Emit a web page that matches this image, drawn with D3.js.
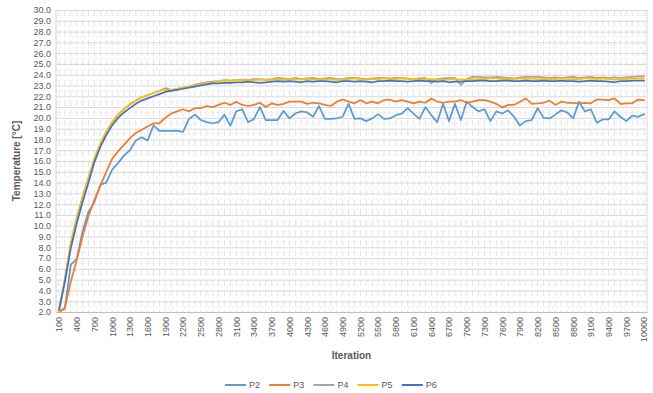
<!DOCTYPE html>
<html>
<head>
<meta charset="utf-8">
<script src="https://cdn.jsdelivr.net/npm/d3@7"></script>
<style>
  body { margin: 0; background: #fff; }
  svg { display: block; }
</style>
</head>
<body>
<div id="chart"></div>
<script>
// iterations 100..10000 (step 100)
const iterations = [100,200,300,400,500,600,700,800,900,1000,1100,1200,1300,1400,1500,1600,1700,1800,1900,2000,
  2100,2200,2300,2400,2500,2600,2700,2800,2900,3000,3100,3200,3300,3400,3500,3600,3700,3800,3900,4000,
  4100,4200,4300,4400,4500,4600,4700,4800,4900,5000,5100,5200,5300,5400,5500,5600,5700,5800,5900,6000,
  6100,6200,6300,6400,6500,6600,6700,6800,6900,7000,7100,7200,7300,7400,7500,7600,7700,7800,7900,8000,
  8100,8200,8300,8400,8500,8600,8700,8800,8900,9000,9100,9200,9300,9400,9500,9600,9700,9800,9900,10000];

const p2 = [2.0,2.3,6.4,6.9,9.5,11.3,12.2,13.8,14.0,15.2,15.8,16.5,17.0,17.9,18.2,17.9,19.3,18.8,18.8,18.8,
  18.8,18.7,19.9,20.3,19.8,19.6,19.5,19.6,20.3,19.25,20.6,20.8,19.6,19.9,21.0,19.8,19.8,19.8,20.65,19.95,
  20.4,20.6,20.5,20.1,21.1,19.9,19.9,19.95,20.1,21.3,19.9,19.95,19.7,19.95,20.35,19.9,19.95,20.25,20.4,20.9,
  20.4,19.9,21.0,20.25,19.6,21.3,19.7,21.3,19.8,21.5,21.0,20.6,20.8,19.7,20.6,20.4,20.7,20.1,19.3,19.7,
  19.8,20.9,20.0,19.95,20.3,20.7,20.5,19.95,21.5,20.6,20.8,19.55,19.85,19.85,20.6,20.1,19.7,20.2,20.1,20.35];

const p3 = [2.0,2.4,4.8,6.8,9.0,10.9,12.4,13.7,15.0,16.2,16.9,17.5,18.1,18.6,18.9,19.2,19.5,19.5,20.0,20.4,
  20.6,20.8,20.6,20.9,20.9,21.1,21.0,21.2,21.4,21.2,21.5,21.2,21.1,21.2,21.4,21.0,21.35,21.2,21.3,21.5,
  21.5,21.5,21.3,21.4,21.35,21.2,21.1,21.5,21.7,21.5,21.35,21.65,21.35,21.5,21.35,21.65,21.7,21.5,21.65,21.5,
  21.35,21.5,21.4,21.8,21.5,21.4,21.5,21.5,21.65,21.4,21.5,21.65,21.65,21.5,21.3,20.95,21.2,21.2,21.5,21.8,
  21.3,21.35,21.4,21.6,21.2,21.5,21.4,21.4,21.35,21.4,21.35,21.7,21.7,21.65,21.8,21.3,21.35,21.35,21.7,21.65];

const p4 = [2.0,5.0,8.4,10.7,12.7,14.5,16.2,17.6,18.7,19.6,20.3,20.8,21.2,21.6,21.9,22.1,22.3,22.5,22.75,22.6,
  22.7,22.8,22.9,23.05,23.2,23.3,23.35,23.4,23.5,23.45,23.5,23.55,23.5,23.6,23.6,23.55,23.6,23.7,23.65,23.6,
  23.7,23.6,23.65,23.7,23.6,23.65,23.7,23.6,23.6,23.7,23.7,23.65,23.6,23.65,23.7,23.7,23.65,23.7,23.7,23.65,
  23.6,23.65,23.7,23.2,23.6,23.65,23.7,23.7,23.05,23.6,23.8,23.8,23.75,23.75,23.8,23.75,23.7,23.65,23.75,23.8,
  23.8,23.8,23.75,23.7,23.75,23.7,23.75,23.8,23.7,23.75,23.8,23.7,23.75,23.7,23.75,23.7,23.75,23.8,23.85,23.85];

const p5 = [2.0,5.0,8.3,10.6,12.6,14.4,16.2,17.6,18.7,19.6,20.3,20.8,21.3,21.6,21.9,22.1,22.3,22.5,22.6,22.55,
  22.7,22.8,22.9,23.0,23.1,23.25,23.3,23.4,23.45,23.45,23.5,23.5,23.45,23.5,23.55,23.5,23.55,23.6,23.55,23.6,
  23.6,23.55,23.6,23.6,23.55,23.6,23.6,23.5,23.55,23.6,23.65,23.6,23.55,23.6,23.6,23.65,23.6,23.6,23.65,23.6,
  23.6,23.55,23.6,23.6,23.55,23.5,23.55,23.6,23.55,23.55,23.6,23.6,23.6,23.65,23.65,23.6,23.6,23.6,23.65,23.6,
  23.65,23.6,23.6,23.6,23.6,23.65,23.6,23.6,23.6,23.65,23.65,23.6,23.65,23.6,23.55,23.6,23.6,23.65,23.65,23.65];

const p6 = [2.2,4.8,7.9,10.2,12.2,14.0,15.9,17.3,18.4,19.3,20.0,20.5,20.9,21.3,21.6,21.8,22.0,22.2,22.4,22.5,
  22.6,22.7,22.8,22.9,23.0,23.1,23.2,23.2,23.25,23.25,23.3,23.3,23.35,23.3,23.25,23.3,23.35,23.4,23.35,23.4,
  23.35,23.3,23.4,23.35,23.4,23.4,23.35,23.3,23.4,23.4,23.35,23.4,23.35,23.3,23.4,23.4,23.45,23.4,23.4,23.35,
  23.4,23.45,23.4,23.4,23.35,23.4,23.3,23.35,23.35,23.4,23.4,23.45,23.45,23.4,23.4,23.45,23.45,23.4,23.4,23.45,
  23.4,23.4,23.45,23.4,23.4,23.45,23.4,23.4,23.35,23.4,23.45,23.4,23.4,23.35,23.3,23.4,23.4,23.45,23.45,23.45];

const seriesNames = ["P2", "P3", "P4", "P5", "P6"];
const seriesValues = [p2, p3, p4, p5, p6];
const colors = ["#5b9bd5", "#ed7d31", "#a5a5a5", "#ffc000", "#4472c4"];
const yTicks = d3.range(2, 30.5, 1);

const W = 653, H = 393;
const plotLeft = 56, plotRight = 647, plotTop = 10, plotBottom = 312;
const textColor = "#595959";
const font = "Liberation Sans, Arial, sans-serif";

const svg = d3.select("#chart").append("svg")
  .attr("width", W)
  .attr("height", H);

const x = d3.scalePoint()
  .domain(iterations)
  .range([plotLeft, plotRight])
  .padding(0.5);

const y = d3.scaleLinear()
  .domain([2, 30])
  .range([plotBottom, plotTop]);

// vertical minor gridlines, one per category
svg.append("g")
  .selectAll("line")
  .data(iterations)
  .enter()
  .append("line")
  .attr("x1", d => x(d)).attr("x2", d => x(d))
  .attr("y1", plotTop).attr("y2", plotBottom)
  .attr("stroke", "#e4e4e4")
  .attr("stroke-dasharray", "6,4");

// horizontal minor gridlines (half steps)
svg.append("g")
  .selectAll("line")
  .data(yTicks.slice(0, -1).map(d => d + 0.5))
  .enter()
  .append("line")
  .attr("x1", plotLeft).attr("x2", plotRight)
  .attr("y1", d => y(d)).attr("y2", d => y(d))
  .attr("stroke", "#ececec")
  .attr("stroke-dasharray", "2,2");

// y axis with major gridlines
const yAxis = svg.append("g")
  .attr("transform", "translate(" + plotLeft + ",0)")
  .call(d3.axisLeft(y).tickValues(yTicks).tickFormat(d3.format(".1f")).tickSize(-(plotRight - plotLeft)).tickPadding(5));
yAxis.select(".domain").remove();
yAxis.selectAll(".tick line").attr("stroke", "#d9d9d9");
yAxis.selectAll(".tick text")
  .attr("fill", textColor)
  .style("font-family", font)
  .style("font-size", "9px");

// plot borders
svg.append("line")
  .attr("x1", plotLeft).attr("x2", plotLeft).attr("y1", plotTop).attr("y2", plotBottom)
  .attr("stroke", "#d0d0d0");
svg.append("line")
  .attr("x1", plotRight).attr("x2", plotRight).attr("y1", plotTop).attr("y2", plotBottom)
  .attr("stroke", "#d9d9d9");

// x axis
const xAxis = svg.append("g")
  .attr("transform", "translate(0," + plotBottom + ")")
  .call(d3.axisBottom(x).tickValues(iterations.filter((d, i) => i % 3 === 0)).tickSize(0));
xAxis.select(".domain").attr("stroke", "#bfbfbf");
xAxis.selectAll(".tick text")
  .attr("fill", textColor)
  .style("font-family", font)
  .style("font-size", "9px")
  .attr("transform", "rotate(-90)")
  .attr("text-anchor", "end")
  .attr("x", -5)
  .attr("y", 0)
  .attr("dy", "0.32em");

// lines
const line = d3.line()
  .x((d, i) => x(iterations[i]))
  .y(d => y(d));

svg.append("g")
  .selectAll("path")
  .data(seriesValues)
  .enter()
  .append("path")
  .attr("d", d => line(d))
  .attr("fill", "none")
  .attr("stroke", (d, i) => colors[i])
  .attr("stroke-width", 1.75)
  .attr("stroke-linejoin", "round")
  .attr("stroke-linecap", "round");

// axis titles
svg.append("text")
  .attr("transform", "translate(20," + ((plotTop + plotBottom) / 2) + ") rotate(-90)")
  .attr("text-anchor", "middle")
  .attr("fill", textColor)
  .style("font-family", font)
  .style("font-size", "10px")
  .style("font-weight", "bold")
  .text("Temperature [°C]");

svg.append("text")
  .attr("x", (plotLeft + plotRight) / 2)
  .attr("y", 359)
  .attr("text-anchor", "middle")
  .attr("fill", textColor)
  .style("font-family", font)
  .style("font-size", "10px")
  .style("font-weight", "bold")
  .text("Iteration");

// legend
const legend = svg.append("g")
  .selectAll("g")
  .data(seriesNames)
  .enter()
  .append("g")
  .attr("transform", (d, i) => "translate(" + (225 + i * 44.2) + ",385)");
legend.append("line")
  .attr("x1", 0).attr("x2", 21)
  .attr("stroke", (d, i) => colors[i])
  .attr("stroke-width", 2);
legend.append("text")
  .attr("x", 24)
  .attr("dy", "0.35em")
  .attr("fill", textColor)
  .style("font-family", font)
  .style("font-size", "9px")
  .text(d => d);
</script>
</body>
</html>
